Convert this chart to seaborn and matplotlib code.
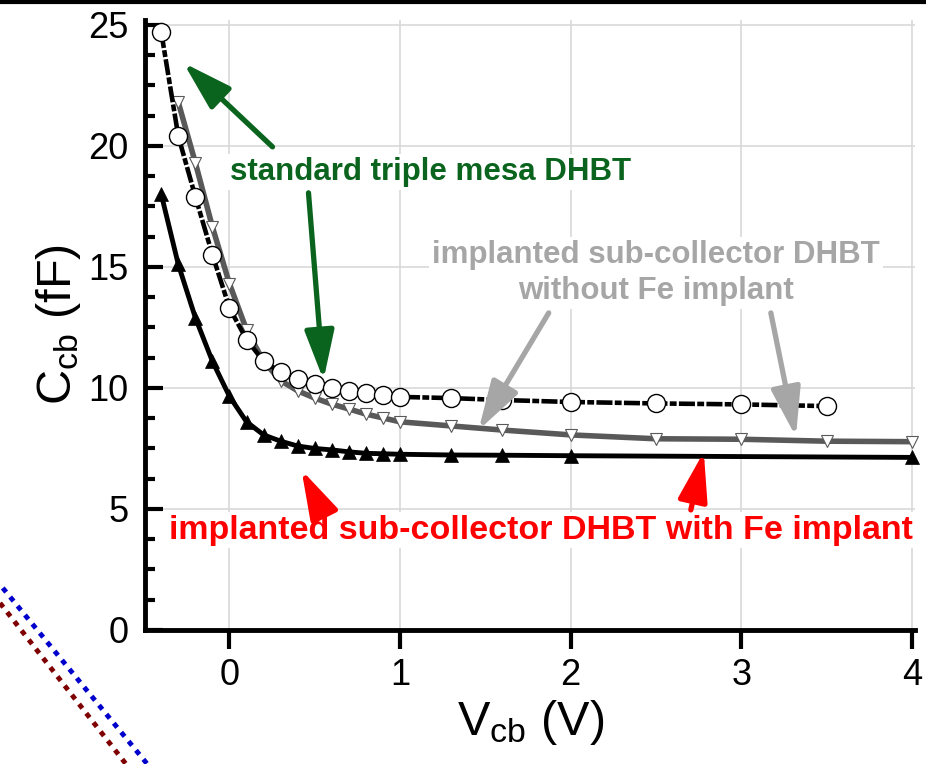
"""
Ccb vs Vcb for three DHBT variants
"""

import numpy as np
import pandas as pd
import seaborn as sns
import matplotlib as mpl
import matplotlib.pyplot as plt
from matplotlib.lines import Line2D

# Style
sns.set_theme(style="white")
plt.rcParams['font.family'] = ['Liberation Sans', 'DejaVu Sans']
mpl.rcParams['mathtext.fontset'] = 'custom'
mpl.rcParams['mathtext.rm'] = 'Liberation Sans'
mpl.rcParams['mathtext.it'] = 'Liberation Sans:italic'
mpl.rcParams['text.color'] = 'black'
mpl.rcParams['axes.labelcolor'] = 'black'
mpl.rcParams['xtick.color'] = 'black'
mpl.rcParams['ytick.color'] = 'black'

# ----------------
# data (read off)
# ----------------
# standard triple mesa DHBT (open circles)
v_std = [-0.4, -0.3, -0.2, -0.1, 0.0, 0.1, 0.2, 0.3, 0.4, 0.5, 0.6,
         0.7, 0.8, 0.9, 1.0, 1.3, 1.6, 2.0, 2.5, 3.0, 3.5]
c_std = [24.7, 20.4, 17.9, 15.5, 13.3, 12.0, 11.1, 10.65, 10.35, 10.15, 10.0,
         9.88, 9.8, 9.7, 9.63, 9.58, 9.5, 9.42, 9.36, 9.32, 9.25]

# implanted sub-collector, without Fe implant (grey, down triangles)
v_nofe = [-0.3, -0.2, -0.1, 0.0, 0.1, 0.2, 0.3, 0.4, 0.5, 0.6, 0.7,
          0.8, 0.9, 1.0, 1.3, 1.6, 2.0, 2.5, 3.0, 3.5, 4.0]
c_nofe = [21.8, 19.3, 16.65, 14.3, 12.4, 11.1, 10.3, 9.88, 9.58, 9.33, 9.13,
          8.92, 8.76, 8.6, 8.43, 8.26, 8.06, 7.9, 7.88, 7.8, 7.78]

# implanted sub-collector, with Fe implant (black, up triangles)
v_fe = [-0.4, -0.3, -0.2, -0.1, 0.0, 0.1, 0.2, 0.3, 0.4, 0.5, 0.6,
        0.7, 0.8, 0.9, 1.0, 1.3, 1.6, 2.0, 4.0]
c_fe = [18.0, 15.1, 12.9, 11.1, 9.65, 8.6, 8.06, 7.8, 7.6, 7.5, 7.44,
        7.36, 7.3, 7.28, 7.26, 7.23, 7.22, 7.2, 7.13]

x_ticks = [0, 1, 2, 3, 4]
y_ticks = [0, 5, 10, 15, 20, 25]

df_std = pd.DataFrame({'v': v_std, 'c': c_std})
df_nofe = pd.DataFrame({'v': v_nofe, 'c': c_nofe})
df_fe = pd.DataFrame({'v': v_fe, 'c': c_fe})

# Colours
green = '#0a641e'
grey_txt = '#a6a6a6'
grey_line = '#595959'
red = '#ff0000'

# ----------
# figure
# ----------
fig = plt.figure(figsize=(9.26, 7.64), dpi=100)
ax = fig.add_axes([0.157, 0.1754, 0.8315, 0.7984])

# Grid
ax.set_axisbelow(True)
ax.grid(True, which='major', color='#d9d9d9', lw=1.2)

# Series
sns.lineplot(data=df_nofe, x='v', y='c', ax=ax, estimator=None, color=grey_line,
             lw=4, marker='v', markersize=8, markerfacecolor='white',
             markeredgecolor=grey_line, markeredgewidth=0.8, clip_on=False, zorder=3)
sns.lineplot(data=df_fe, x='v', y='c', ax=ax, estimator=None, color='black',
             lw=3.5, marker='^', markersize=10.5, markerfacecolor='black',
             markeredgecolor='black', markeredgewidth=0.5, clip_on=False, zorder=3)
sns.lineplot(data=df_std, x='v', y='c', ax=ax, estimator=None, color='black',
             lw=3.3, linestyle=(0, (3.5, 0.5, 1.5, 0.5)), marker='o', markersize=13,
             markerfacecolor='white', markeredgecolor='black',
             markeredgewidth=1, clip_on=False, zorder=4)

# Axes
ax.set_xlim(-0.493, 4.02)
ax.set_ylim(0, 25.2)
ax.set_xticks(x_ticks)
ax.set_yticks(y_ticks)
ax.set_yticks(np.arange(0, 25.01, 1.25), minor=True)
ax.tick_params(axis='y', which='major', direction='in', length=13, width=3,
               labelsize=26, pad=12, left=True)
ax.tick_params(axis='y', which='minor', direction='in', length=7, width=3, left=True)
ax.tick_params(axis='x', which='major', direction='out', length=14, width=3,
               labelsize=26, pad=6, bottom=True)
for s in ['top', 'right']:
    ax.spines[s].set_visible(False)
for s in ['left', 'bottom']:
    ax.spines[s].set_linewidth(3.5)
    ax.spines[s].set_color('black')

ax.set_xlabel(r'V$_{\mathrm{cb}}$ (V)', fontsize=35, labelpad=4)
ax.set_ylabel(r'C$_{\mathrm{cb}}$ (fF)', fontsize=35, labelpad=4)

# -----------
# annotations
# -----------
box = dict(facecolor='white', edgecolor='none', pad=2)

def arrow(tail, tip, color):
    ax.annotate('', xy=tip, xytext=tail,
                arrowprops=dict(arrowstyle='-|>,head_length=1.5,head_width=0.45',
                                lw=3.8, color=color, shrinkA=0, shrinkB=0,
                                mutation_scale=20), zorder=6)

ax.text(1.18, 18.93, 'standard triple mesa DHBT', color=green, fontsize=22.5,
        fontweight='bold', ha='center', va='center', bbox=box, zorder=5)
arrow((0.252, 19.96), (-0.27, 23.43), green)
arrow((0.463, 18.06), (0.551, 10.33), green)

ax.text(2.50, 14.75, 'implanted sub-collector DHBT\nwithout Fe implant',
        color=grey_txt, fontsize=22.5, fontweight='bold', ha='center',
        va='center', linespacing=1.25, bbox=box, zorder=5)
arrow((1.871, 13.1), (1.46, 8.26), grey_txt)
arrow((3.173, 13.1), (3.32, 7.98), grey_txt)

ax.text(1.824, 4.13, 'implanted sub-collector DHBT with Fe implant', color=red,
        fontsize=24.5, fontweight='bold', ha='center', va='center',
        bbox=box, zorder=5)
arrow((0.545, 4.88), (0.422, 6.61), red)
arrow((2.704, 4.96), (2.78, 7.36), red)

# Border and leftover lines of the source page
fig.add_artist(Line2D([0, 1], [0.998, 0.998], transform=fig.transFigure,
                      color='black', lw=3))
fig.add_artist(Line2D([0.003, 0.159], [0.2304, 0.0], transform=fig.transFigure,
                      color='#0000cc', lw=3.5, linestyle=(0, (1.1, 1.3))))
fig.add_artist(Line2D([0.0, 0.136], [0.2107, 0.0], transform=fig.transFigure,
                      color='#7f0000', lw=3.5, linestyle=(0, (1.1, 1.3))))

fig.savefig('out.png', dpi=100)
